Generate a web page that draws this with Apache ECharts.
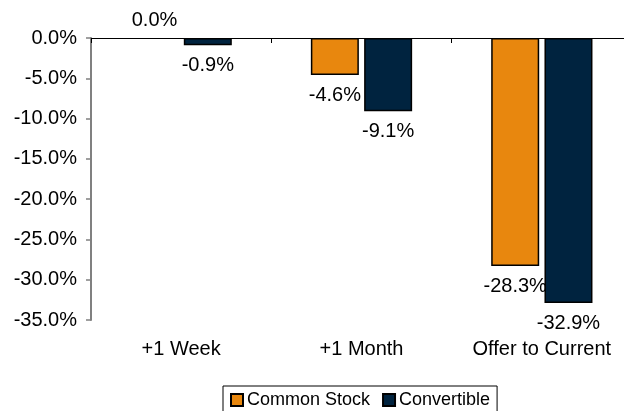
<!DOCTYPE html>
<html>
<head>
<meta charset="utf-8">
<script src="https://cdn.jsdelivr.net/npm/echarts@6/dist/echarts.min.js"></script>
<style>
html,body{margin:0;padding:0;background:#fff;}
#chart{width:624px;height:411px;}
</style>
</head>
<body>
<div id="chart"></div>
<script>
const categories = ['+1 Week', '+1 Month', 'Offer to Current'];
const commonStock = [0.0, -4.6, -28.3];
const convertible = [-0.9, -9.1, -32.9];
const yTicks = { min: -35, max: 0, interval: 5 };

const FONT = "'Liberation Sans', Arial, sans-serif";
const fmt = v => Number(v).toFixed(1) + '%';

function toItems(arr) {
  return arr.map(v => (v >= 0
    ? { value: v, label: { position: 'top', distance: 8 }, itemStyle: { borderWidth: 0 } }
    : { value: v, label: { position: 'bottom', distance: 10 } }));
}

const chart = echarts.init(document.getElementById('chart'), null, { renderer: 'canvas' });
chart.setOption({
  animation: false,
  backgroundColor: '#fff',
  textStyle: { fontFamily: FONT },
  grid: { left: 91, top: 38, height: 282, width: 541, containLabel: false, outerBoundsMode: 'none' },
  legend: {
    left: 223, top: 386,
    padding: [5, 7, 10, 7],
    borderColor: '#000', borderWidth: 1,
    itemWidth: 12, itemHeight: 12, itemGap: 12,
    icon: 'rect',
    textStyle: { fontSize: 18, color: '#000', fontFamily: FONT, padding: [0, 0, 0, -1] },
    data: ['Common Stock', 'Convertible']
  },
  xAxis: [
    {
      type: 'category', data: categories, position: 'bottom',
      axisLine: { show: false }, axisTick: { show: false },
      axisLabel: { interval: 0, margin: 19, fontSize: 20, color: '#000', fontFamily: FONT }
    },
    {
      type: 'category', data: categories, position: 'top',
      axisLine: { show: true, onZero: false, lineStyle: { color: '#000', width: 1 } },
      axisTick: { show: true, inside: true, length: 5, lineStyle: { color: '#000' } },
      axisLabel: { show: false }
    }
  ],
  yAxis: {
    type: 'value', min: yTicks.min, max: yTicks.max, interval: yTicks.interval,
    axisLine: { show: true, lineStyle: { color: '#808080', width: 2 } },
    axisTick: { show: true, length: 5, lineStyle: { color: '#808080', width: 1.5 } },
    splitLine: { show: false },
    axisLabel: { formatter: fmt, margin: 14, fontSize: 20, color: '#000', fontFamily: FONT }
  },
  series: [
    {
      name: 'Common Stock', type: 'bar', xAxisIndex: 0,
      data: toItems(commonStock),
      barWidth: 48, barGap: '11%',
      itemStyle: { color: '#E8870E', borderColor: '#000', borderWidth: 1.5 },
      label: { show: true, formatter: p => fmt(p.value), fontSize: 20, color: '#000', fontFamily: FONT }
    },
    {
      name: 'Convertible', type: 'bar', xAxisIndex: 0,
      data: toItems(convertible),
      barWidth: 48, barGap: '11%',
      itemStyle: { color: '#00233F', borderColor: '#000', borderWidth: 1.5 },
      label: { show: true, formatter: p => fmt(p.value), fontSize: 20, color: '#000', fontFamily: FONT }
    }
  ]
});
</script>
</body>
</html>
